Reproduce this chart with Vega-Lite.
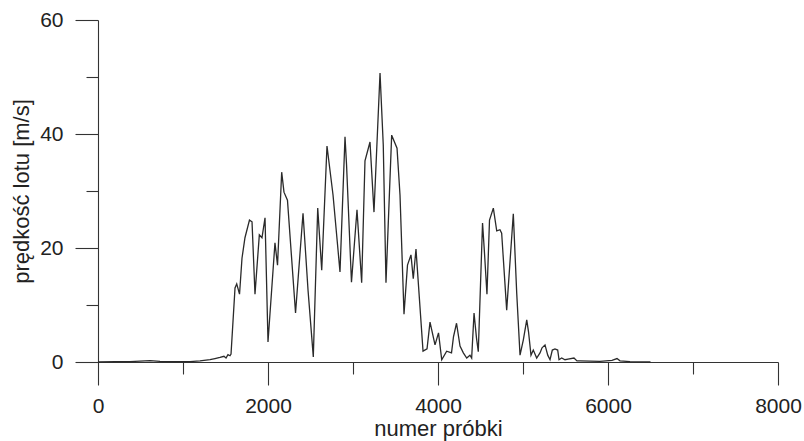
{
  "$schema": "https://vega.github.io/schema/vega-lite/v6.json",
  "width": 680,
  "height": 342,
  "autosize": {"type": "none"},
  "padding": {"left": 98, "top": 20, "right": 26, "bottom": 79},
  "background": "white",
  "config": {
    "font": "Liberation Sans",
    "view": {"stroke": null},
    "axis": {
      "grid": false,
      "domainColor": "#333333",
      "tickColor": "#333333",
      "domainWidth": 1.1,
      "tickWidth": 1.1,
      "labelColor": "#222222",
      "titleColor": "#222222",
      "labelFontSize": 21,
      "titleFontSize": 22,
      "titleFontWeight": "normal",
      "labelFont": "Liberation Sans",
      "titleFont": "Liberation Sans"
    }
  },
  "data": {
    "values": [
      {"x": 0, "v": 0}, {"x": 200, "v": 0.05}, {"x": 376, "v": 0.05}, {"x": 494, "v": 0.15}, {"x": 612, "v": 0.25},
      {"x": 729, "v": 0.1}, {"x": 906, "v": 0.05}, {"x": 1082, "v": 0.05}, {"x": 1200, "v": 0.2}, {"x": 1318, "v": 0.4},
      {"x": 1376, "v": 0.6}, {"x": 1435, "v": 0.8}, {"x": 1482, "v": 1.0}, {"x": 1506, "v": 0.7}, {"x": 1529, "v": 1.3},
      {"x": 1553, "v": 1.1}, {"x": 1565, "v": 1.4}, {"x": 1612, "v": 13}, {"x": 1632, "v": 13.7}, {"x": 1665, "v": 11.9},
      {"x": 1694, "v": 18.2}, {"x": 1729, "v": 21.8}, {"x": 1782, "v": 24.9}, {"x": 1812, "v": 24.6}, {"x": 1847, "v": 11.9},
      {"x": 1898, "v": 22.3}, {"x": 1929, "v": 21.8}, {"x": 1965, "v": 25.3}, {"x": 2000, "v": 3.5}, {"x": 2082, "v": 20.9},
      {"x": 2112, "v": 17}, {"x": 2161, "v": 33.3}, {"x": 2188, "v": 29.8}, {"x": 2229, "v": 28.4}, {"x": 2324, "v": 8.6},
      {"x": 2412, "v": 26.1}, {"x": 2471, "v": 12.6}, {"x": 2533, "v": 0.9}, {"x": 2585, "v": 27}, {"x": 2632, "v": 16.1},
      {"x": 2694, "v": 37.9}, {"x": 2765, "v": 29.3}, {"x": 2824, "v": 19.6}, {"x": 2847, "v": 15.8}, {"x": 2906, "v": 39.5},
      {"x": 2924, "v": 34.6}, {"x": 2982, "v": 14}, {"x": 3047, "v": 26.7}, {"x": 3102, "v": 13.9}, {"x": 3141, "v": 35.3},
      {"x": 3200, "v": 38.6}, {"x": 3247, "v": 26.3}, {"x": 3318, "v": 50.7}, {"x": 3356, "v": 38.1}, {"x": 3388, "v": 13.9},
      {"x": 3455, "v": 39.8}, {"x": 3518, "v": 37.5}, {"x": 3553, "v": 29.3}, {"x": 3600, "v": 8.4}, {"x": 3641, "v": 17},
      {"x": 3682, "v": 18.8}, {"x": 3709, "v": 14.6}, {"x": 3741, "v": 19.8}, {"x": 3824, "v": 1.9}, {"x": 3871, "v": 2.3},
      {"x": 3906, "v": 7}, {"x": 3965, "v": 3}, {"x": 4006, "v": 5.1}, {"x": 4044, "v": 0.4}, {"x": 4102, "v": 1.9},
      {"x": 4159, "v": 1.6}, {"x": 4182, "v": 4.4}, {"x": 4218, "v": 6.8}, {"x": 4259, "v": 2.8}, {"x": 4298, "v": 1.6},
      {"x": 4338, "v": 0.7}, {"x": 4376, "v": 1.2}, {"x": 4396, "v": 0.7}, {"x": 4424, "v": 8.6}, {"x": 4453, "v": 4.2},
      {"x": 4474, "v": 1.8}, {"x": 4524, "v": 24.4}, {"x": 4547, "v": 19.1}, {"x": 4576, "v": 11.9}, {"x": 4606, "v": 24.9},
      {"x": 4651, "v": 27}, {"x": 4691, "v": 23}, {"x": 4729, "v": 23.2}, {"x": 4749, "v": 22.6}, {"x": 4808, "v": 9.1},
      {"x": 4886, "v": 26}, {"x": 4926, "v": 12.1}, {"x": 4965, "v": 1.2}, {"x": 5004, "v": 3.9}, {"x": 5044, "v": 7.4},
      {"x": 5065, "v": 5.3}, {"x": 5094, "v": 1.2}, {"x": 5121, "v": 2.1}, {"x": 5161, "v": 0.7}, {"x": 5200, "v": 1.6},
      {"x": 5224, "v": 2.5}, {"x": 5259, "v": 3}, {"x": 5291, "v": 1.2}, {"x": 5318, "v": 0.4}, {"x": 5345, "v": 2.1},
      {"x": 5376, "v": 2.3}, {"x": 5408, "v": 2.1}, {"x": 5424, "v": 0.4}, {"x": 5455, "v": 0.7}, {"x": 5494, "v": 0.4},
      {"x": 5529, "v": 0.5}, {"x": 5600, "v": 0.7}, {"x": 5635, "v": 0.2}, {"x": 5671, "v": 0.2}, {"x": 5906, "v": 0.1},
      {"x": 6047, "v": 0.3}, {"x": 6106, "v": 0.6}, {"x": 6141, "v": 0.2}, {"x": 6259, "v": 0.05}, {"x": 6500, "v": 0}
    ]
  },
  "resolve": {"axis": {"x": "independent", "y": "independent"}},
  "layer": [
    {
      "mark": {"type": "line", "color": "#2a2a2a", "strokeWidth": 1.3, "interpolate": "linear"},
      "encoding": {
        "x": {
          "field": "x", "type": "quantitative",
          "scale": {"domain": [0, 8000], "nice": false, "zero": false},
          "axis": {"orient": "bottom", "values": [0, 2000, 4000, 6000, 8000], "tickSize": 23, "labelPadding": 10, "title": "numer próbki", "titlePadding": 2, "format": "d", "labelFlush": false}
        },
        "y": {
          "field": "v", "type": "quantitative",
          "scale": {"domain": [0, 60], "nice": false},
          "axis": {"orient": "left", "values": [0, 20, 40, 60], "tickSize": 23, "labelPadding": 12, "title": "prędkość lotu [m/s]", "titlePadding": 6, "labelFlush": false}
        }
      }
    },
    {
      "mark": {"type": "line", "strokeOpacity": 0},
      "encoding": {
        "x": {
          "field": "x", "type": "quantitative",
          "axis": {"orient": "bottom", "values": [1000, 3000, 5000, 7000], "tickSize": 12, "labels": false, "domain": false, "title": null}
        },
        "y": {
          "field": "v", "type": "quantitative",
          "axis": {"orient": "left", "values": [10, 30, 50], "tickSize": 12, "labels": false, "domain": false, "title": null}
        }
      }
    }
  ]
}
